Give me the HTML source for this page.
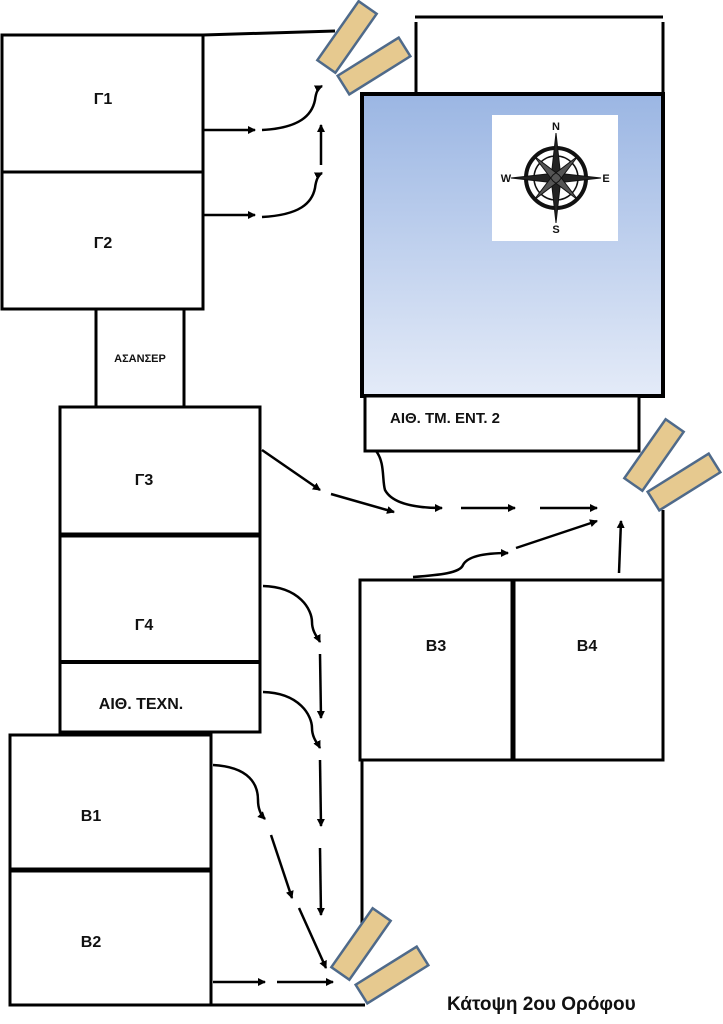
<!DOCTYPE html>
<html><head><meta charset="utf-8"><style>
html,body{margin:0;padding:0;background:#fff;}
svg{display:block;}
text{font-family:"Liberation Sans","DejaVu Sans",sans-serif;font-weight:bold;fill:#111;}
</style></head><body>
<svg width="723" height="1024" viewBox="0 0 723 1024" xmlns="http://www.w3.org/2000/svg">
<defs>
<linearGradient id="bg" x1="0" y1="0" x2="0" y2="1">
<stop offset="0" stop-color="#9bb6e3"/><stop offset="1" stop-color="#e4ebf8"/>
</linearGradient>
<marker id="ah" markerWidth="8" markerHeight="8" refX="7" refY="4" orient="auto" markerUnits="userSpaceOnUse">
<path d="M0,0 L8,4 L0,8 Z" fill="#000"/>
</marker>
</defs>
<g fill="none" stroke="#000" stroke-width="3">
<!-- Γ1 Γ2 -->
<rect x="2" y="35" width="201" height="274" fill="#fff"/>
<line x1="2" y1="172" x2="203" y2="172"/>
<line x1="203" y1="35" x2="335" y2="31"/>
<!-- elevator -->
<line x1="96" y1="309" x2="96" y2="407"/>
<line x1="184" y1="309" x2="184" y2="407"/>
<!-- Γ3 Γ4 -->
<rect x="60" y="407" width="200" height="325" fill="#fff"/>
<line x1="60" y1="535" x2="260" y2="535" stroke-width="5"/>
<line x1="60" y1="662" x2="260" y2="662" stroke-width="4"/>
<!-- B1 B2 -->
<rect x="10" y="735" width="201" height="270" fill="#fff"/>
<line x1="10" y1="870" x2="211" y2="870" stroke-width="5"/>
<line x1="211" y1="1005" x2="365" y2="1005"/>
<line x1="362" y1="760" x2="362" y2="926"/>
<!-- upper white box -->
<line x1="415" y1="17" x2="663" y2="17"/>
<line x1="416" y1="22" x2="416" y2="92"/>
<line x1="663" y1="22" x2="663" y2="92"/>
<!-- blue -->
<rect x="362" y="94" width="301" height="302" fill="url(#bg)" stroke-width="4"/>
<rect x="365" y="396" width="274" height="55" fill="#fff"/>
<line x1="663" y1="510" x2="663" y2="580"/>
<!-- B3 B4 -->
<rect x="360" y="580" width="303" height="180" fill="#fff"/>
<line x1="513" y1="580" x2="513" y2="760" stroke-width="5"/>
</g>
<!-- compass -->
<rect x="492" y="115" width="126" height="126" fill="#fff"/>
<g transform="translate(556,178)" stroke="#111" fill="none">
<circle r="30" stroke-width="4"/>
<circle r="22" stroke-width="1.5"/>
<path d="M0,-45 L5,0 L0,45 L-5,0 Z M-45,0 L0,5 L45,0 L0,-5 Z" fill="#222" stroke-width="1"/>
<path d="M-22,-22 L3,-3 L22,22 L-3,3 Z M22,-22 L3,3 L-22,22 L-3,-3 Z" fill="#555" stroke-width="1"/>
</g>
<text x="556" y="130" font-size="11" text-anchor="middle">N</text>
<text x="556" y="233" font-size="11" text-anchor="middle">S</text>
<text x="506" y="182" font-size="11" text-anchor="middle">W</text>
<text x="606" y="182" font-size="11" text-anchor="middle">E</text>
<!-- doors -->
<g fill="#e6c98f" stroke="#4f6a8a" stroke-width="2.5">
<rect x="-36" y="-11" width="72" height="22" transform="translate(347,37) rotate(-55)"/>
<rect x="-36" y="-11" width="72" height="22" transform="translate(374,66) rotate(-32)"/>
<rect x="-36" y="-11" width="72" height="22" transform="translate(654,455) rotate(-55)"/>
<rect x="-36" y="-11" width="72" height="22" transform="translate(684,482) rotate(-32)"/>
<rect x="-36" y="-11" width="72" height="22" transform="translate(361,944) rotate(-55)"/>
<rect x="-36" y="-11" width="72" height="22" transform="translate(392,975) rotate(-32)"/>
</g>
<!-- arrows -->
<g fill="none" stroke="#000" stroke-width="2.5" marker-end="url(#ah)">
<path d="M203,130 L255,130"/>
<path d="M262,130 C300,128 312,115 315,100 C316,92 318,88 322,86"/>
<path d="M321,165 L321,125"/>
<path d="M203,215 L255,215"/>
<path d="M262,217 C300,215 312,203 315,188 C316,180 318,175 322,173"/>
<path d="M262,450 L320,490"/>
<path d="M331,494 L394,512"/>
<path d="M376,451 C385,462 382,480 385,490 C393,505 420,508 442,508"/>
<path d="M461,508 L515,508"/>
<path d="M540,508 L597,508"/>
<path d="M413,577 C440,575 460,573 463,565 C468,555 490,553 508,553"/>
<path d="M516,548 L597,521"/>
<path d="M619,573 L621,521"/>
<path d="M263,586 C300,587 312,610 312,622 C312,632 318,638 320,642"/>
<path d="M320,654 L321,718"/>
<path d="M263,692 C300,693 312,716 312,728 C312,738 318,744 320,748"/>
<path d="M320,760 L321,826"/>
<path d="M320,848 L321,915"/>
<path d="M213,765 C250,767 258,785 258,800 C258,810 262,816 265,819"/>
<path d="M271,835 L292,898"/>
<path d="M299,908 L326,968"/>
<path d="M213,982 L265,982"/>
<path d="M277,982 L333,982"/>
</g>
<!-- labels -->
<text x="103" y="104" font-size="16" text-anchor="middle">Γ1</text>
<text x="103" y="248" font-size="16" text-anchor="middle">Γ2</text>
<text x="140" y="362" font-size="11" text-anchor="middle">ΑΣΑΝΣΕΡ</text>
<text x="144" y="485" font-size="16" text-anchor="middle">Γ3</text>
<text x="144" y="630" font-size="16" text-anchor="middle">Γ4</text>
<text x="141" y="709" font-size="16" text-anchor="middle">ΑΙΘ. ΤΕΧΝ.</text>
<text x="91" y="821" font-size="16" text-anchor="middle">Β1</text>
<text x="91" y="947" font-size="16" text-anchor="middle">Β2</text>
<text x="390" y="423" font-size="15">ΑΙΘ. ΤΜ. ΕΝΤ. 2</text>
<text x="436" y="651" font-size="16" text-anchor="middle">Β3</text>
<text x="587" y="651" font-size="16" text-anchor="middle">Β4</text>
<text x="447" y="1010" font-size="19">Κάτοψη 2ου Ορόφου</text>
</svg>
</body></html>
